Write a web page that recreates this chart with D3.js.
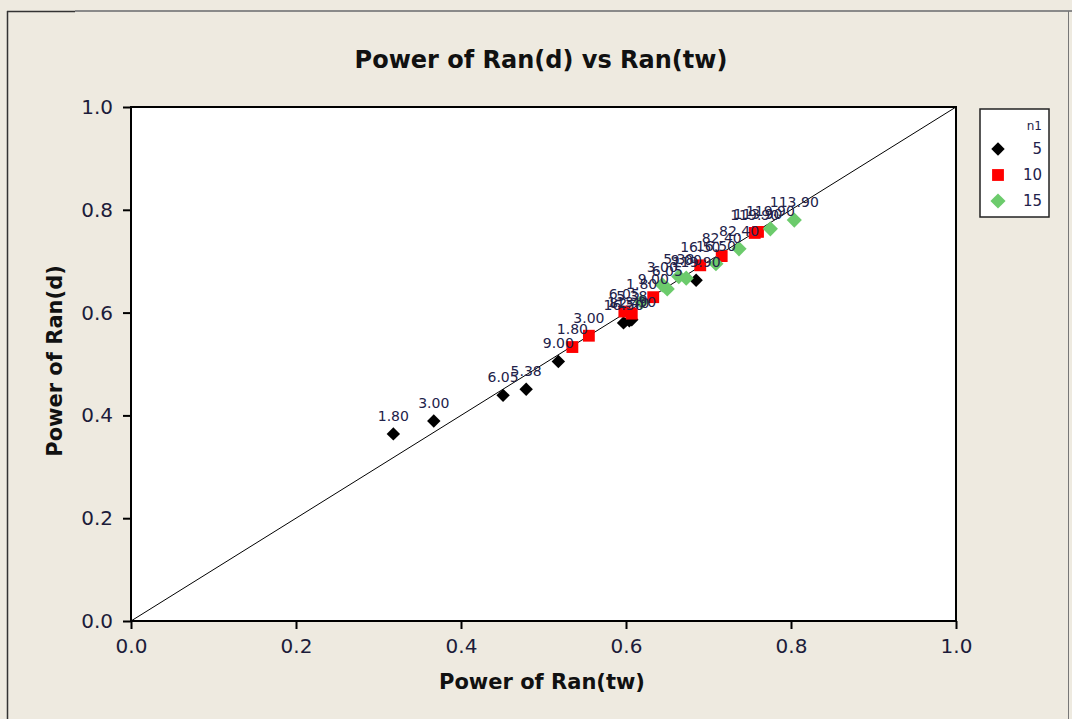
<!DOCTYPE html>
<html>
<head>
<meta charset="utf-8">
<script src="https://cdn.jsdelivr.net/npm/d3@7"></script>
<style>
  html, body { margin: 0; padding: 0; background: #EEEAE0; }
  svg { display: block; }
  text { font-family: "DejaVu Sans", Verdana, sans-serif; }
</style>
</head>
<body>
<svg id="chart" width="1072" height="719"></svg>
<script>
// ---- data ----
const groups = ["5", "10", "15"];
const labels = ["1.80", "3.00", "6.05", "5.38", "9.00", "16.50", "82.40", "113.90", "119.90"];
const n5x  = [0.318, 0.367, 0.451, 0.479, 0.518, 0.597, 0.604, 0.607, 0.685];
const n5y  = [0.364, 0.389, 0.439, 0.451, 0.505, 0.580, 0.584, 0.586, 0.663];
const n10x = [0.535, 0.555, 0.598, 0.607, 0.633, 0.690, 0.716, 0.760, 0.756];
const n10y = [0.533, 0.555, 0.602, 0.598, 0.630, 0.692, 0.710, 0.757, 0.755];
const n15x = [0.619, 0.644, 0.650, 0.664, 0.673, 0.709, 0.737, 0.804, 0.775];
const n15y = [0.621, 0.654, 0.646, 0.670, 0.667, 0.695, 0.724, 0.780, 0.763];
const xTicks = [0.0, 0.2, 0.4, 0.6, 0.8, 1.0];
const yTicks = [0.0, 0.2, 0.4, 0.6, 0.8, 1.0];
const title = "Power of Ran(d) vs Ran(tw)";
const xTitle = "Power of Ran(tw)";
const yTitle = "Power of Ran(d)";
const legendTitle = "n1";

const series = [
  {name: groups[0], xs: n5x,  ys: n5y,  color: "#000000", shape: "diamond", size: 90},
  {name: groups[1], xs: n10x, ys: n10y, color: "#FF0000", shape: "square",  size: 140},
  {name: groups[2], xs: n15x, ys: n15y, color: "#6CCB6C", shape: "diamond", size: 115}
];

const svg = d3.select("#chart");
const W = 1072, H = 719;
const plot = {left: 131, right: 956, top: 107, bottom: 621};

// background frame
svg.append("rect").attr("x", 0).attr("y", 0).attr("width", W).attr("height", H).attr("fill", "#EEEAE0");
svg.append("line").attr("x1", 7.5).attr("x2", 7.5).attr("y1", 11).attr("y2", H).attr("stroke", "#333").attr("stroke-width", 1.5);
svg.append("line").attr("x1", 7).attr("x2", 75).attr("y1", 11.5).attr("y2", 11.5).attr("stroke", "#333").attr("stroke-width", 1.5);
svg.append("line").attr("x1", 75).attr("x2", W).attr("y1", 11).attr("y2", 11).attr("stroke", "#8a8a8a").attr("stroke-width", 2);
svg.append("line").attr("x1", 1068.5).attr("x2", 1068.5).attr("y1", 11).attr("y2", H).attr("stroke", "#777").attr("stroke-width", 1);

const x = d3.scaleLinear().domain([0, 1]).range([plot.left, plot.right]);
const y = d3.scaleLinear().domain([0, 1]).range([plot.bottom, plot.top]);

svg.append("rect")
  .attr("x", plot.left).attr("y", plot.top)
  .attr("width", plot.right - plot.left).attr("height", plot.bottom - plot.top)
  .attr("fill", "#ffffff");

// diagonal reference line
svg.append("line")
  .attr("x1", x(0)).attr("y1", y(0)).attr("x2", x(1)).attr("y2", y(1))
  .attr("stroke", "#000").attr("stroke-width", 1);

// axes
const tickColor = "#1c1c3a";
const xAxis = svg.append("g").attr("transform", `translate(0,${plot.bottom})`)
  .call(d3.axisBottom(x).tickValues(xTicks).tickFormat(d3.format(".1f")).tickSize(8).tickSizeOuter(0));
const yAxis = svg.append("g").attr("transform", `translate(${plot.left},0)`)
  .call(d3.axisLeft(y).tickValues(yTicks).tickFormat(d3.format(".1f")).tickSize(8).tickSizeOuter(0));
[xAxis, yAxis].forEach(a => {
  a.select(".domain").remove();
  a.selectAll(".tick line").attr("stroke", "#000").attr("stroke-width", 2);
  a.selectAll(".tick text").attr("fill", tickColor).style("font-size", "20px")
    .style("font-family", "'DejaVu Sans', Verdana, sans-serif");
});
xAxis.selectAll(".tick text").attr("dy", "0.71em").attr("y", 18);
yAxis.selectAll(".tick text").attr("x", -18);

// plot border
svg.append("rect")
  .attr("x", plot.left).attr("y", plot.top)
  .attr("width", plot.right - plot.left).attr("height", plot.bottom - plot.top)
  .attr("fill", "none").attr("stroke", "#000").attr("stroke-width", 2);

// marker helper: squares, and diamonds as squares turned 45 degrees
function marker(sel, s) {
  sel.attr("d", d3.symbol().type(d3.symbolSquare).size(s.size))
     .attr("fill", s.color);
}
function rot(s) { return s.shape === "diamond" ? " rotate(45)" : ""; }

// points
series.forEach(s => {
  const pts = s.xs.map((v, i) => ({x: v, y: s.ys[i], label: labels[i]}));
  svg.append("g").selectAll("path").data(pts).join("path")
    .attr("transform", d => `translate(${x(d.x)},${y(d.y)})${rot(s)}`)
    .call(marker, s);
});
// point labels (drawn on top)
series.forEach(s => {
  const pts = s.xs.map((v, i) => ({x: v, y: s.ys[i], label: labels[i]}));
  svg.append("g").selectAll("text").data(pts).join("text")
    .attr("x", d => x(d.x)).attr("y", d => y(d.y) - 13)
    .attr("text-anchor", "middle")
    .attr("fill", "#22224a")
    .style("font-size", "14px")
    .text(d => d.label);
});

// titles
svg.append("text").attr("x", 541).attr("y", 68).attr("text-anchor", "middle")
  .style("font-size", "24px").style("font-weight", "bold").attr("fill", "#111")
  .text(title);
svg.append("text").attr("x", 542).attr("y", 689).attr("text-anchor", "middle")
  .style("font-size", "21px").style("font-weight", "bold").attr("fill", "#111")
  .text(xTitle);
svg.append("text").attr("transform", `translate(62,${(plot.top + plot.bottom) / 2 - 3}) rotate(-90)`)
  .attr("text-anchor", "middle")
  .style("font-size", "21px").style("font-weight", "bold").attr("fill", "#111")
  .text(yTitle);

// legend
const lg = svg.append("g");
lg.append("rect").attr("x", 980).attr("y", 109).attr("width", 69).attr("height", 108)
  .attr("fill", "#fff").attr("stroke", "#222").attr("stroke-width", 1.5);
lg.append("text").attr("x", 1042).attr("y", 130).attr("text-anchor", "end")
  .style("font-size", "12px").attr("fill", "#22224a").text(legendTitle);
series.forEach((s, i) => {
  const cy = 149 + i * 26;
  lg.append("path")
    .attr("transform", `translate(998,${cy})${rot(s)}`)
    .call(marker, s);
  lg.append("text").attr("x", 1042).attr("y", cy + 5).attr("text-anchor", "end")
    .style("font-size", "15px").attr("fill", "#22224a").text(s.name);
});
</script>
</body>
</html>
